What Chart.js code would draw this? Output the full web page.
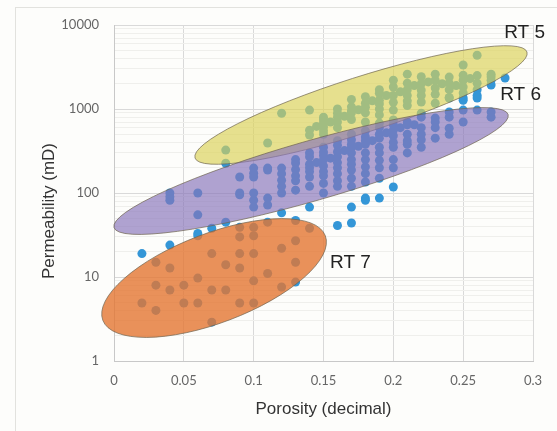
<!DOCTYPE html>
<html>
<head>
<meta charset="utf-8">
<script src="https://cdn.jsdelivr.net/npm/chart.js@4.4.1/dist/chart.umd.min.js"></script>
<style>
  html, body { margin: 0; padding: 0; background: #fdfdfb; }
  #wrap { position: relative; width: 557px; height: 431px; }
  #frame { position: absolute; left: 15px; top: 7px; width: 560px; height: 440px; border: 1px solid #e2e2de; }
  canvas { position: absolute; left: 0; top: 0; }
</style>
</head>
<body>
<div id="wrap">
  <div id="frame"></div>
  <canvas id="chart" width="557" height="431"></canvas>
</div>
<script>
// Porosité / perméabilité (une paire par point)
const porosity = [
    0.02, 0.02,
    0.03, 0.03, 0.03,
    0.04, 0.04, 0.04, 0.04, 0.04, 0.04,
    0.05, 0.05,
    0.06, 0.06, 0.06, 0.06, 0.06, 0.06,
    0.07, 0.07, 0.07, 0.07,
    0.08, 0.08, 0.08, 0.08, 0.08,
    0.09, 0.09, 0.09, 0.09, 0.09, 0.09, 0.09, 0.09,
    0.10, 0.10, 0.10, 0.10, 0.10, 0.10, 0.10, 0.10, 0.10, 0.10, 0.10,
    0.11, 0.11, 0.11, 0.11, 0.11, 0.11, 0.11,
    0.12, 0.12, 0.12, 0.12, 0.12, 0.12, 0.12, 0.12, 0.12,
    0.13, 0.13, 0.13, 0.13, 0.13, 0.13, 0.13, 0.13, 0.13, 0.13,
    0.14, 0.14, 0.14, 0.14, 0.14, 0.14, 0.14, 0.14, 0.14, 0.14, 0.14, 0.14,
    0.15, 0.15, 0.15, 0.15, 0.15, 0.15, 0.15, 0.15, 0.15, 0.15, 0.15, 0.15, 0.15, 0.15, 0.15,
    0.16, 0.16, 0.16, 0.16, 0.16, 0.16, 0.16, 0.16, 0.16, 0.16, 0.16, 0.16, 0.16, 0.16, 0.16,
    0.17, 0.17, 0.17, 0.17, 0.17, 0.17, 0.17, 0.17, 0.17, 0.17, 0.17, 0.17, 0.17, 0.17, 0.17, 0.17, 0.17,
    0.18, 0.18, 0.18, 0.18, 0.18, 0.18, 0.18, 0.18, 0.18, 0.18, 0.18, 0.18, 0.18, 0.18, 0.18, 0.18,
    0.19, 0.19, 0.19, 0.19, 0.19, 0.19, 0.19, 0.19, 0.19, 0.19, 0.19, 0.19, 0.19, 0.19, 0.19, 0.19,
    0.20, 0.20, 0.20, 0.20, 0.20, 0.20, 0.20, 0.20, 0.20, 0.20, 0.20, 0.20, 0.20, 0.20,
    0.21, 0.21, 0.21, 0.21, 0.21, 0.21, 0.21, 0.21, 0.21, 0.21, 0.21, 0.21,
    0.22, 0.22, 0.22, 0.22, 0.22, 0.22, 0.22, 0.22, 0.22, 0.22, 0.22,
    0.23, 0.23, 0.23, 0.23, 0.23, 0.23, 0.23, 0.23, 0.23,
    0.24, 0.24, 0.24, 0.24, 0.24, 0.24, 0.24, 0.24, 0.24,
    0.25, 0.25, 0.25, 0.25, 0.25, 0.25, 0.25, 0.25, 0.25,
    0.26, 0.26, 0.26, 0.26, 0.26, 0.26, 0.26,
    0.27, 0.27, 0.27, 0.27, 0.27, 0.27,
    0.28,
    // points intermédiaires du nuage dense
    0.145, 0.145, 0.155, 0.155, 0.165, 0.165, 0.175, 0.175, 0.185, 0.185,
    0.195, 0.195, 0.205, 0.205, 0.215, 0.215, 0.225, 0.235, 0.245, 0.255
];
const permeability = [
    19, 4.9,
    15, 8, 4,
    100, 90, 82, 24, 12.8, 7,
    8, 4.9,
    100, 55, 33, 31, 9.7, 4.9,
    38, 19, 7, 2.9,
    324, 226, 45, 14, 7,
    155, 100, 95, 39, 30, 19, 12.8, 4.9,
    198, 172, 155, 100, 82, 68, 39, 31, 19, 9, 4.9,
    394, 198, 188, 87, 72, 45, 11,
    889, 198, 170, 142, 120, 100, 58, 22, 7.6,
    250, 227, 190, 160, 140, 108, 47, 27, 15, 8.7,
    970, 560, 490, 300, 270, 220, 200, 180, 155, 120, 68, 38,
    800, 740, 680, 610, 550, 500, 350, 307, 280, 250, 210, 180, 160, 130, 100,
    1000, 890, 800, 700, 600, 420, 370, 310, 270, 230, 200, 170, 140, 120, 41,
    1300, 1060, 950, 900, 750, 500, 430, 380, 350, 300, 250, 220, 188, 150, 120, 68, 44,
    1400, 1170, 1050, 900, 700, 550, 465, 420, 380, 300, 250, 205, 170, 135, 87, 82,
    1700, 1540, 1270, 1150, 1000, 850, 680, 600, 500, 450, 350, 300, 245, 200, 150, 87,
    2200, 1830, 1450, 1200, 970, 740, 650, 560, 480, 400, 350, 250, 200, 118,
    2600, 2030, 1700, 1450, 1250, 1100, 700, 650, 500, 420, 380, 300,
    2420, 2000, 1680, 1450, 1210, 890, 800, 600, 500, 430, 350,
    2600, 2200, 1780, 1500, 1170, 780, 700, 600, 450,
    2400, 2030, 1700, 1370, 1350, 920, 800, 590, 500,
    3340, 2520, 2200, 1830, 1550, 1350, 1270, 970, 700,
    4370, 2500, 2030, 1700, 1450, 1350, 970,
    2600, 2420, 2200, 1930, 920, 800,
    2340,
    620, 230, 700, 260, 820, 320, 980, 360, 1250, 420,
    1450, 520, 1600, 600, 1900, 650, 2100, 2000, 1900, 2300
];

// Graduations
const xTicks = [0, 0.05, 0.1, 0.15, 0.2, 0.25, 0.3];
const yTicks = [1, 10, 100, 1000, 10000];

// Types de roche : extrémités du grand axe (données) + rapport petit/grand axe
const rockTypes = ['RT 5', 'RT 6', 'RT 7'];
const ellipseTips = [
    [[0.058, 261], [0.2957, 4770]],
    [[0.0, 38.8], [0.2822, 860]],
    [[-0.008, 3.05], [0.1513, 31]]
];
const ellipseRatio = [0.16, 0.146, 0.375];
const ellipseColors = ['rgba(218, 210, 85, 0.66)', 'rgba(135, 115, 185, 0.66)', 'rgba(228, 118, 50, 0.8)'];
const labelPos = [[0.2794, 8030], [0.2765, 1468], [0.1547, 14.7]];

const points = porosity.map((p, i) => ({ x: p, y: permeability[i] }));

// Grille mineure : 1..9 par décade
const minorTicks = [];
for (let d = 1; d < 10000; d *= 10) {
    for (let k = 1; k < 10; k++) minorTicks.push(d * k);
}
minorTicks.push(10000);

const ellipsePlugin = {
    id: 'ellipses',
    afterDatasetsDraw(chart) {
        const { ctx, scales: { x, y } } = chart;
        ctx.save();
        ellipseTips.forEach((tips, i) => {
            const x1 = x.getPixelForValue(tips[0][0]), y1 = y.getPixelForValue(tips[0][1]);
            const x2 = x.getPixelForValue(tips[1][0]), y2 = y.getPixelForValue(tips[1][1]);
            const a = Math.hypot(x2 - x1, y2 - y1) / 2;
            const b = a * ellipseRatio[i];
            const angle = Math.atan2(y2 - y1, x2 - x1);
            ctx.beginPath();
            ctx.ellipse((x1 + x2) / 2, (y1 + y2) / 2, a, b, angle, 0, Math.PI * 2);
            ctx.fillStyle = ellipseColors[i];
            ctx.fill();
            ctx.lineWidth = 1;
            ctx.strokeStyle = 'rgba(110, 100, 80, 0.7)';
            ctx.stroke();
        });
        ctx.font = '19px "Liberation Sans", Arial, sans-serif';
        ctx.fillStyle = '#222';
        ctx.textBaseline = 'middle';
        ctx.textAlign = 'left';
        rockTypes.forEach((name, i) => {
            ctx.fillText(name, x.getPixelForValue(labelPos[i][0]), y.getPixelForValue(labelPos[i][1]));
        });

        // titre de l'axe Y (un peu sous le centre, comme sur l'original)
        ctx.save();
        ctx.translate(49, 211);
        ctx.rotate(-Math.PI / 2);
        ctx.textAlign = 'center';
        ctx.fillStyle = '#333';
        ctx.font = '17px "Liberation Sans", Arial, sans-serif';
        ctx.fillText('Permeability (mD)', 0, 0);
        ctx.restore();
        ctx.restore();
    }
};

const gridGray = '#d9d9d9';

new Chart(document.getElementById('chart').getContext('2d'), {
    type: 'scatter',
    data: {
        datasets: [{
            data: points,
            backgroundColor: 'rgb(52, 150, 215)',
            borderWidth: 0,
            pointRadius: 4.5
        }]
    },
    options: {
        responsive: false,
        animation: false,
        layout: { padding: { top: 25, right: 24, left: 30, bottom: 0 } },
        plugins: { legend: { display: false }, tooltip: { enabled: false } },
        scales: {
            x: {
                type: 'linear',
                min: 0,
                max: 0.3,
                afterBuildTicks: s => { s.ticks = xTicks.map(v => ({ value: v })); },
                afterFit: s => { s.height = 70; },
                ticks: {
                    padding: 12,
                    color: '#666',
                    font: { family: 'Lato, "Liberation Sans", sans-serif', size: 13 },
                    callback: v => String(v)
                },
                grid: { color: gridGray, drawTicks: false },
                border: { color: '#c8c8c8' },
                title: {
                    display: true,
                    text: 'Porosity (decimal)',
                    color: '#333',
                    font: { family: '"Liberation Sans", Arial, sans-serif', size: 17 },
                    padding: { top: 0, bottom: 11 }
                }
            },
            y: {
                type: 'logarithmic',
                min: 1,
                max: 10000,
                afterBuildTicks: s => { s.ticks = minorTicks.map(v => ({ value: v })); },
                afterFit: s => { s.width = 84; },
                ticks: {
                    padding: 15,
                    autoSkip: false,
                    color: '#666',
                    font: { family: 'Lato, "Liberation Sans", sans-serif', size: 13 },
                    callback: v => (yTicks.includes(v) ? String(v) : '')
                },
                grid: {
                    drawTicks: false,
                    color: c => (yTicks.includes(c.tick.value) ? gridGray : '#efefec')
                },
                border: { color: '#c8c8c8' }
            }
        }
    },
    plugins: [ellipsePlugin]
});
</script>
</body>
</html>
